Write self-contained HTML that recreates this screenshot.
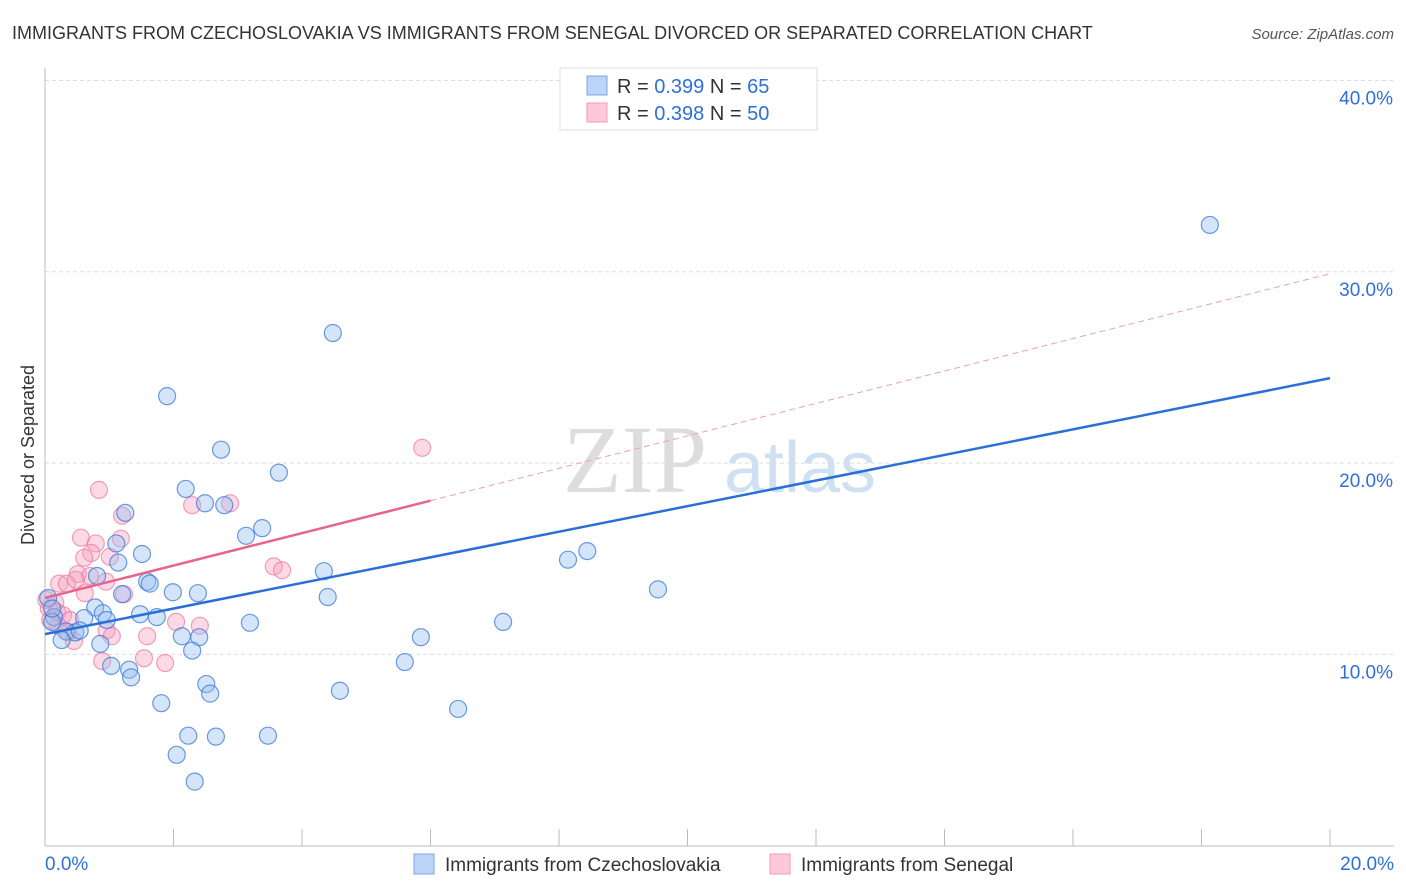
<!DOCTYPE html>
<html><head><meta charset="utf-8"><style>
body{margin:0;background:#fff;font-family:"Liberation Sans",sans-serif}
svg{display:block}
</style></head><body>
<svg width="1406" height="892">
<text x="12" y="39" font-size="18" fill="#333">IMMIGRANTS FROM CZECHOSLOVAKIA VS IMMIGRANTS FROM SENEGAL DIVORCED OR SEPARATED CORRELATION CHART</text>
<text x="1394" y="39" font-size="15" fill="#555" font-style="italic" text-anchor="end">Source: ZipAtlas.com</text>
<text x="635" y="492" font-size="96" fill="#ddd" font-family="Liberation Serif,serif" text-anchor="middle">ZIP</text>
<text x="800" y="492" font-size="72" fill="#cfe0f3" text-anchor="middle">atlas</text>
<g id="grid"></g>
<g id="axes"></g>
<g id="marks"></g>
<text x="34" y="455" font-size="18" fill="#333" text-anchor="middle" transform="rotate(-90 34 455)">Divorced or Separated</text>
<g>
<rect x="560" y="68" width="257" height="62" fill="#fff" stroke="#ddd"/>
<rect x="587" y="76" width="20" height="19" fill="#bcd4f5" stroke="#7aa6e6"/>
<rect x="587" y="103" width="20" height="19" fill="#fcc9d8" stroke="#f09ab5"/>
<text x="617" y="93" font-size="20" fill="#333">R = <tspan fill="#2f6fd8">0.399</tspan>    N = <tspan fill="#2f6fd8">65</tspan></text>
<text x="617" y="120" font-size="20" fill="#333">R = <tspan fill="#2f6fd8">0.398</tspan>    N = <tspan fill="#2f6fd8">50</tspan></text>
</g>
<g>
<rect x="414" y="854" width="20" height="20" fill="#bcd4f5" stroke="#7aa6e6"/>
<text x="445" y="871" font-size="19" fill="#333">Immigrants from Czechoslovakia</text>
<rect x="770" y="854" width="20" height="20" fill="#fcc9d8" stroke="#f09ab5"/>
<text x="801" y="871" font-size="19" fill="#333">Immigrants from Senegal</text>
</g>
</svg>
<script>
const blueX=[18.13,4.48,1.90,2.74,3.64,2.19,2.49,2.79,1.25,3.38,3.13,1.11,1.51,1.14,8.44,8.14,4.34,0.81,1.59,1.63,9.54,1.99,2.38,1.20,4.40,0.78,0.90,1.48,1.74,0.96,0.61,0.14,0.11,7.13,3.19,0.33,0.47,0.54,0.26,2.13,2.40,5.85,0.86,2.29,5.60,1.03,1.31,1.34,2.51,2.57,4.59,1.81,6.43,2.23,2.66,3.47,2.05,2.33,0.05,0.11];
const blueY=[32.45,26.8,23.5,20.7,19.5,18.65,17.9,17.8,17.4,16.6,16.2,15.8,15.25,14.8,15.4,14.95,14.35,14.1,13.8,13.7,13.4,13.25,13.2,13.15,13.0,12.45,12.15,12.1,11.95,11.8,11.9,11.95,11.7,11.7,11.65,11.2,11.15,11.25,10.75,10.95,10.9,10.9,10.55,10.2,9.6,9.4,9.2,8.8,8.45,7.95,8.1,7.45,7.15,5.75,5.7,5.75,4.75,3.35,12.95,12.4];
const pinkX=[5.87,0.84,2.29,2.88,1.20,1.18,0.56,0.79,0.72,0.61,1.01,3.56,3.69,0.51,0.70,0.22,0.34,0.48,0.95,1.23,0.62,0.16,0.06,0.19,0.28,0.39,2.04,2.41,0.20,0.36,0.96,1.04,1.59,0.45,0.89,1.54,1.87,0.08,0.02];
const pinkY=[20.8,18.6,17.8,17.9,17.25,16.05,16.1,15.8,15.3,15.05,15.1,14.6,14.4,14.2,14.1,13.7,13.7,13.9,13.8,13.15,13.2,12.7,12.4,12.2,12.05,11.8,11.7,11.5,11.5,11.15,11.25,10.95,10.95,10.7,9.65,9.8,9.55,11.8,12.85];
const blueTrend=[11.06,24.44];
const pinkTrend=[12.95,29.9];
const yTicks=[10,20,30,40];
const xTicks=[0,2,4,6,8,10,12,14,16,18,20];
const NS='http://www.w3.org/2000/svg';
const X=v=>45+v/20*1285, Y=v=>845.7-v*19.13;
function mk(t,a,p){const e=document.createElementNS(NS,t);for(const k in a)e.setAttribute(k,a[k]);document.getElementById(p).appendChild(e);return e;}
yTicks.forEach(v=>{
 const l=mk('line',{x1:45,x2:1394,y1:Y(v),y2:Y(v),stroke:'#ddd','stroke-dasharray':'4 3'},'grid');
 
 
 const t=mk('text',{x:1393,y:Y(v)+24,'font-size':19,fill:'#2f6fd8','text-anchor':'end'},'grid');
 t.textContent=v.toFixed(1)+'%';
 
 
});
const ax=mk('line',{x1:45,x2:45,y1:68,y2:846,stroke:'#bbb'},'axes');


const bx=mk('line',{x1:45,x2:1394,y1:846,y2:846,stroke:'#bbb'},'axes');


xTicks.forEach(v=>{
 const l=mk('line',{x1:X(v),x2:X(v),y1:829,y2:846,stroke:'#bbb'},'axes');
 
 
});
[[0,'start',45],[20,'end',1394]].forEach(([v,a,x])=>{
 const t=mk('text',{x:x,y:870,'font-size':19,fill:'#2f6fd8','text-anchor':a},'axes');
 t.textContent=v.toFixed(1)+'%';
 
 
});
pinkX.forEach((v,i)=>{
 const c=mk('circle',{cx:X(v),cy:Y(pinkY[i]),r:8.5,fill:'rgba(247,160,189,0.4)',stroke:'rgba(236,120,160,0.7)','stroke-width':1.2},'marks');
 
 
});
blueX.forEach((v,i)=>{
 const c=mk('circle',{cx:X(v),cy:Y(blueY[i]),r:8.5,fill:'rgba(150,190,240,0.4)',stroke:'rgba(60,120,215,0.75)','stroke-width':1.2},'marks');
 
 
});
const bt=mk('line',{x1:X(0),y1:Y(blueTrend[0]),x2:X(20),y2:Y(blueTrend[1]),stroke:'#2a6fd6','stroke-width':2.5},'marks');


const pm=pinkTrend[0]+(pinkTrend[1]-pinkTrend[0])*6/20;
const pd=mk('line',{x1:X(6),y1:Y(pm),x2:X(20),y2:Y(pinkTrend[1]),stroke:'#eaa0b8','stroke-width':1,'stroke-dasharray':'6 4'},'marks');


const pt=mk('line',{x1:X(0),y1:Y(pinkTrend[0]),x2:X(6),y2:Y(pm),stroke:'#e8648c','stroke-width':2.5},'marks');


</script>
</body></html>
